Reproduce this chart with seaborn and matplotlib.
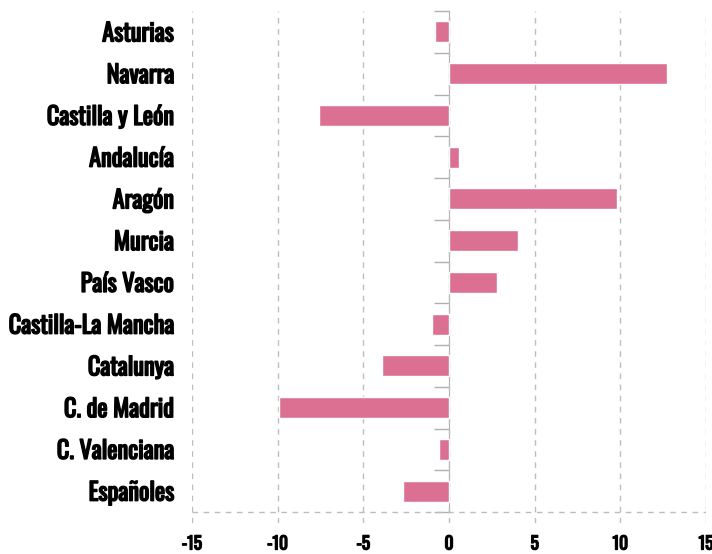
import matplotlib
matplotlib.use("Agg")
import matplotlib.pyplot as plt
import matplotlib.patheffects as pe
import seaborn as sns
import pandas as pd

regions = ["Asturias", "Navarra", "Castilla y León", "Andalucía", "Aragón", "Murcia",
           "País Vasco", "Castilla-La Mancha", "Catalunya", "C. de Madrid",
           "C. Valenciana", "Españoles"]
values = [-0.8, 12.7, -7.6, 0.6, 9.8, 4.0, 2.8, -1.0, -3.9, -9.9, -0.6, -2.7]
xticks = [-15, -10, -5, 0, 5, 10, 15]

df = pd.DataFrame({"region": regions, "value": values})

sns.set_style("white")
plt.rcParams["font.family"] = ["Oswald", "DejaVu Sans"]

fig = plt.figure(figsize=(7.12, 5.54), dpi=100)
ax = fig.add_axes([0.2697, 0.056, 0.9916 - 0.2697, 0.9801 - 0.056])

sns.barplot(data=df, x="value", y="region", orient="h", color="#db7093",
            saturation=1, width=0.5, ax=ax, zorder=3)

n = len(regions)
ax.set_xlim(-15, 15)
ax.set_ylim(n - 0.5 + 0.263, -0.5)
ax.set_xticks(xticks)
ax.set_xticklabels([str(t) for t in xticks])
ax.set_xlabel("")
ax.set_ylabel("")

for s in ax.spines.values():
    s.set_visible(False)

ax.grid(axis="x", color="#bdbdbd", linestyle=(0, (4, 4)), linewidth=1, zorder=0)
ax.axhline(n - 0.5, color="#bdbdbd", linestyle=(0, (4, 4)), linewidth=1, zorder=1)

ax.tick_params(axis="y", length=0, pad=13, labelsize=17.5)
ax.tick_params(axis="x", length=0, pad=9, labelsize=12.5)
# only the regular weight of Oswald is installed, so thicken the strokes a bit
for lab in ax.get_yticklabels():
    lab.set_color("black")
    lab.set_path_effects([pe.withStroke(linewidth=1.1, foreground="black")])
for lab in ax.get_xticklabels():
    lab.set_color("black")
    lab.set_path_effects([pe.withStroke(linewidth=1.0, foreground="black")])

# zero axis with tick marks at band boundaries
sec = ax.secondary_yaxis(0.5)
sec.set_alignment("left")
bounds = [i - 0.5 for i in range(n + 1)]
sec.set_yticks(bounds)
sec.set_yticklabels([])
sec.tick_params(length=11, color="#b0b0b0", width=1)
sec.spines["left"].set_color("#b0b0b0")
sec.spines["left"].set_bounds(-0.5, n - 0.5)

fig.savefig("out.png", dpi=100)
